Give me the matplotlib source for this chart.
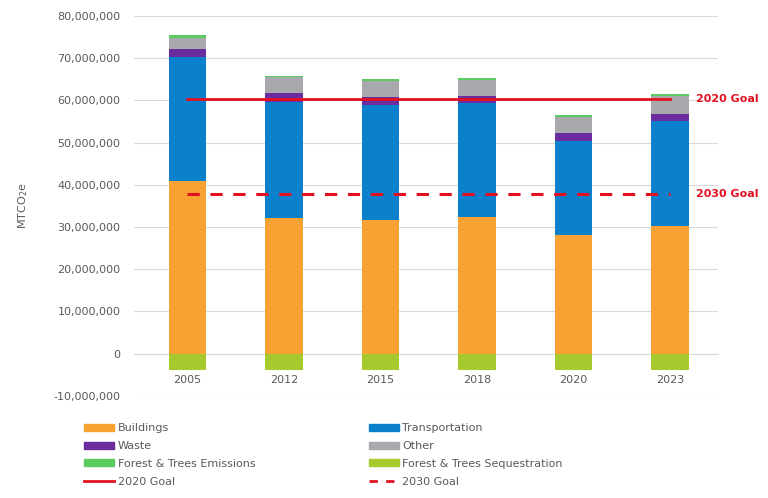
import matplotlib
matplotlib.use("Agg")
import matplotlib.pyplot as plt
import matplotlib.ticker as mticker
from matplotlib.patches import Patch
from matplotlib.lines import Line2D
import numpy as np

# emissions by sector, MTCO2e
years = ["2005", "2012", "2015", "2018", "2020", "2023"]
buildings = [41.0e6, 32.1e6, 31.7e6, 32.3e6, 28.0e6, 30.2e6]
transportation = [29.2e6, 27.5e6, 27.3e6, 27.0e6, 22.3e6, 24.8e6]
waste = [2.0e6, 2.2e6, 1.8e6, 1.8e6, 2.0e6, 1.7e6]
other = [2.5e6, 3.7e6, 3.7e6, 3.7e6, 3.8e6, 4.3e6]
forest_emissions = [0.9e6, 0.3e6, 0.5e6, 0.4e6, 0.4e6, 0.4e6]
forest_sequestration = [-3.8e6, -3.8e6, -3.8e6, -3.8e6, -3.8e6, -3.8e6]
goal_2020 = 60.3e6
goal_2030 = 37.8e6

colors = {
    "Buildings": "#F7A233",
    "Transportation": "#0B80CC",
    "Waste": "#6A2C9E",
    "Other": "#A7A9AC",
    "Forest & Trees Emissions": "#5BCB5F",
    "Forest & Trees Sequestration": "#A6C92E",
}
red = "#E3111F"
txt = "#595959"

fig = plt.figure(figsize=(7.68, 4.98), dpi=100)
ax = fig.add_axes([0.175, 0.205, 0.76, 0.763])

x = np.arange(len(years))
w = 0.39
stack = [("Buildings", buildings), ("Transportation", transportation),
         ("Waste", waste), ("Other", other),
         ("Forest & Trees Emissions", forest_emissions)]
bottom = np.zeros(len(years))
for name, vals in stack:
    ax.bar(x, vals, w, bottom=bottom, color=colors[name], zorder=3)
    bottom += np.array(vals)
ax.bar(x, forest_sequestration, w, color=colors["Forest & Trees Sequestration"], zorder=3)

ax.plot([x[0], x[-1]], [goal_2020, goal_2020], color=red, lw=2.0, zorder=4)
ax.plot([x[0], x[-1]], [goal_2030, goal_2030], color=red, lw=2.2, dashes=(4, 3.5), zorder=4)
goal_font = dict(color=red, fontsize=8, fontweight="bold", va="center", ha="left",
                 family=["Liberation Sans Narrow", "DejaVu Sans"])
ax.text(5.27, goal_2020, "2020 Goal", **goal_font)
ax.text(5.27, goal_2030, "2030 Goal", **goal_font)

ax.set_xlim(-0.55, 5.5)
ax.set_ylim(-10e6, 80e6)
ax.yaxis.set_major_locator(mticker.MultipleLocator(10e6))
ax.yaxis.set_major_formatter(mticker.FuncFormatter(lambda v, p: f"{v:,.0f}"))
ax.grid(axis="y", color="#D9D9D9", lw=0.8, zorder=0)
for s in ["top", "right", "left"]:
    ax.spines[s].set_visible(False)
ax.spines["bottom"].set_position(("data", 0))
ax.spines["bottom"].set_color("#D9D9D9")
ax.set_xticks(x)
ax.set_xticklabels(years)
ax.tick_params(axis="x", length=0, pad=15, labelsize=8, labelcolor=txt)
ax.tick_params(axis="y", length=0, pad=10, labelsize=8, labelcolor=txt)
ax.set_ylabel("MTCO$_2$e", fontsize=8, color=txt, labelpad=17)

# legend: two columns, filled row by row
h = {n: Patch(color=c) for n, c in colors.items()}
h["2020 Goal"] = Line2D([], [], color=red, lw=2)
h["2030 Goal"] = Line2D([], [], color=red, lw=2, dashes=(3, 3))
order = ["Buildings", "Waste", "Forest & Trees Emissions", "2020 Goal",
         "Transportation", "Other", "Forest & Trees Sequestration", "2030 Goal"]
fig.legend([h[n] for n in order], order, ncol=2, loc="upper left",
           bbox_to_anchor=(0.11, 0.15), frameon=False, fontsize=8,
           labelcolor=txt, handlelength=2.7, handleheight=0.6,
           handletextpad=0.3, labelspacing=0.7, columnspacing=10.2,
           borderaxespad=0, borderpad=0)

fig.savefig("out.png", dpi=100)
